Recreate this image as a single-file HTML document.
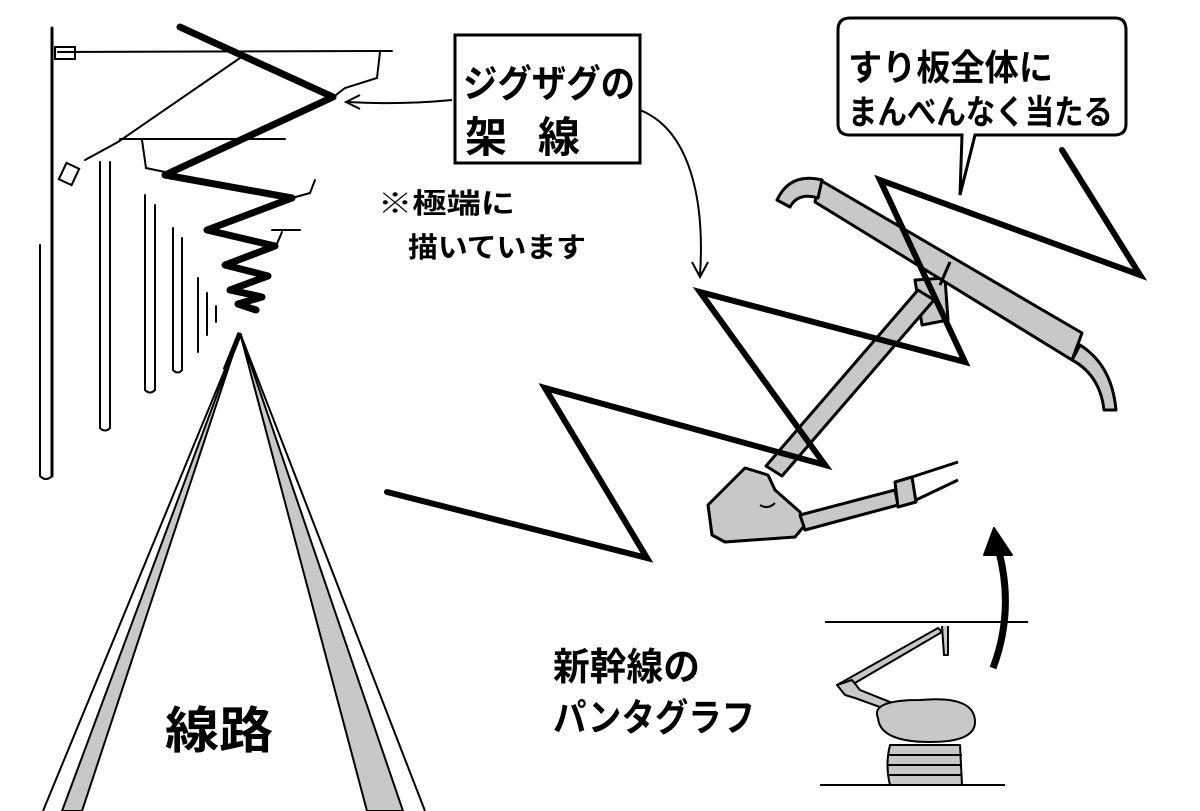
<!DOCTYPE html>
<html><head><meta charset="utf-8"><style>
html,body{margin:0;padding:0;background:#fff;width:1200px;height:811px;overflow:hidden}
svg{display:block}
text{font-family:"Liberation Sans","Noto Sans CJK JP",sans-serif;font-weight:bold;fill:#000}
</style></head><body>
<svg width="1200" height="811" viewBox="0 0 1200 811" xmlns="http://www.w3.org/2000/svg">
<rect width="1200" height="811" fill="#fff"/>
<!-- left poles -->
<g stroke="#000" fill="none" stroke-width="2" stroke-linecap="round">
<line x1="52" y1="28" x2="52" y2="476" stroke-width="3"/>
<path d="M40 245 L40 476 Q46 482 52 476"/>
<line x1="58" y1="52" x2="392" y2="51"/>
<path d="M380 52 L377 78 L345 88 L336 95"/>
<path d="M240 58 L118 142 L85 160"/>
<rect x="55" y="47" width="20" height="12"/>
<rect x="62" y="165" width="14" height="18" transform="rotate(25 69 174)"/>
<line x1="120" y1="139" x2="285" y2="139"/>
<path d="M142 140 L146 168 L165 172"/>
<path d="M292 198 L310 193 L315 180"/>
<path d="M272 230 L300 230 M282 232 L276 246"/>
<path d="M100 162 L100 428 Q105 433 110 428 L110 162"/>
<path d="M145 195 L145 390 Q150 395 155 390 L155 205"/>
<path d="M173 228 L173 370 Q178 375 182 370 L182 238"/>
<path d="M198 278 L198 352"/>
<path d="M207 293 L207 335 M216 306 L216 322"/>
</g>
<!-- zigzag left -->
<polyline points="180,27 333,97 165,175 292,198 207,230 275,246 225,265 268,276 230,290 262,297 238,304 256,310" stroke="#000" stroke-width="7" fill="none" stroke-linejoin="round" stroke-linecap="round"/>
<!-- rails -->
<polygon points="240,333 62,811 82,811" fill="#c8c8c8" stroke="#000" stroke-width="2"/>
<line x1="240" y1="333" x2="43" y2="811" stroke="#000" stroke-width="2"/>
<polygon points="240,333 367,811 403,811" fill="#c8c8c8" stroke="#000" stroke-width="2"/>
<line x1="240" y1="333" x2="425" y2="811" stroke="#000" stroke-width="2"/>
<line x1="240" y1="333" x2="225" y2="370" stroke="#000" stroke-width="5"/>
<text x="165" y="748" font-size="50" textLength="108" lengthAdjust="spacingAndGlyphs">線路</text>
<!-- box -->
<rect x="455" y="35" width="185" height="128" fill="#fff" stroke="#000" stroke-width="3"/>
<text x="463" y="97" font-size="38" textLength="172" lengthAdjust="spacingAndGlyphs">ジグザグの</text>
<text x="465" y="152" font-size="42" textLength="115" lengthAdjust="spacing">架 線</text>
<g stroke="#000" fill="none" stroke-width="2">
<path d="M452 100 Q400 105 348 102"/>
<path d="M360 95 L346 102 L360 109"/>
<path d="M640 110 C690 130 705 200 700 275"/>
<path d="M692 262 L700 277 L708 262"/>
</g>
<text x="378" y="213" font-size="28" font-weight="normal" textLength="137" lengthAdjust="spacingAndGlyphs">※極端に</text>
<text x="408" y="257" font-size="28" font-weight="normal" textLength="178" lengthAdjust="spacingAndGlyphs">描いています</text>
<!-- bubble -->
<path d="M850 18 L1115 18 Q1126 18 1126 30 L1126 124 Q1126 135 1114 135 L975 135 L960 195 L962 135 L850 135 Q838 135 838 124 L838 30 Q838 18 850 18 Z" fill="#fff" stroke="#000" stroke-width="3"/>
<text x="848" y="80" font-size="36" textLength="205" lengthAdjust="spacingAndGlyphs">すり板全体に</text>
<text x="848" y="124" font-size="34" textLength="265" lengthAdjust="spacingAndGlyphs">まんべんなく当たる</text>
<!-- pantograph big -->
<g stroke="#000" stroke-width="3" stroke-linejoin="round">
<polygon points="915,280 945,278 948,320 922,325" fill="#c8c8c8"/>
<polygon points="918,290 934,300 782,476 766,466" fill="#c8c8c8"/>
<polygon points="820,180 1082,333 1072,360 815,202" fill="#c8c8c8"/>
<line x1="950" y1="262" x2="940" y2="285"/>
<path d="M822,180 Q790,172 777,200 L790,207 Q798,192 818,198 Z" fill="#c8c8c8"/>
<path d="M1080,345 Q1112,365 1116,410 L1104,410 Q1100,375 1072,360 Z" fill="#c8c8c8"/>
<polygon points="745,468 768,475 775,490 800,512 805,525 795,537 725,542 712,535 708,505" fill="#c8c8c8"/>
<polygon points="800,515 895,490 898,505 805,530" fill="#c8c8c8"/>
<polygon points="895,482 912,477 916,502 898,507" fill="#c8c8c8"/>
<path d="M912 477 L958 462 M916 500 L958 480" fill="none"/>
<path d="M760 505 Q768 510 775 503" fill="none" stroke-width="2"/>
</g>
<polyline points="387,492 647,558 545,388 825,465 700,292 965,362 880,180 1140,275 1062,150" stroke="#000" stroke-width="6" fill="none" stroke-linejoin="miter" stroke-linecap="round"/>
<text x="553" y="680" font-size="38" textLength="147" lengthAdjust="spacingAndGlyphs">新幹線の</text>
<text x="553" y="731" font-size="38" textLength="202" lengthAdjust="spacingAndGlyphs">パンタグラフ</text>
<!-- small pantograph -->
<g stroke="#000" stroke-width="2" stroke-linejoin="round">
<line x1="825" y1="622" x2="1028" y2="622"/>
<line x1="820" y1="785" x2="1005" y2="785"/>
<polygon points="837,685 938,628 942,632 843,690" fill="#c8c8c8"/>
<path d="M942 626 L944 655 L948 655 L948 626" fill="#c8c8c8"/>
<polygon points="837,685 852,680 860,690 915,712 910,718 855,698 845,695" fill="#c8c8c8"/>
<path d="M890 745 L960 745 L962 785 L890 785 Q885 765 890 745 Z" fill="#c8c8c8"/>
<path d="M888 755 L962 755 M888 765 L962 765 M888 775 L962 775" fill="none"/>
<path d="M878 718 Q870 700 920 700 Q975 695 975 722 Q975 742 930 742 Q880 742 878 718 Z" fill="#c8c8c8"/>
<path d="M993 668 Q1015 610 998 548" fill="none" stroke-width="7"/>
<polygon points="984,555 994,528 1012,555" fill="#000"/>
</g>
</svg>
</body></html>
